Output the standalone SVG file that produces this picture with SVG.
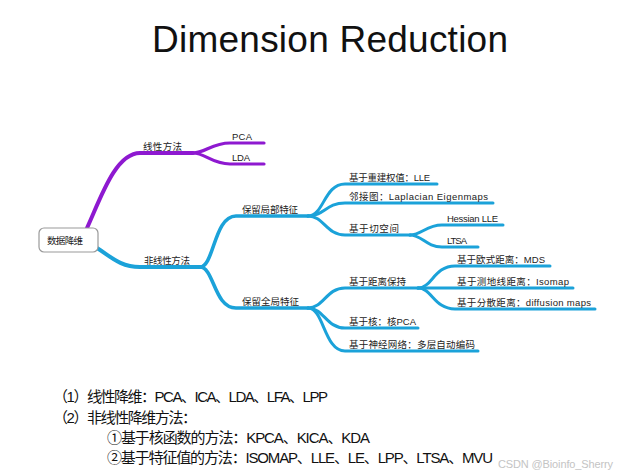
<svg xmlns="http://www.w3.org/2000/svg" width="620" height="476" viewBox="0 0 620 476">
<style>
.bg{fill:#fff}
.p{fill:none;stroke:#8e19d0;stroke-linecap:round}
.c{fill:none;stroke:#1ba2d9;stroke-linecap:round}
.m{font-family:"Liberation Sans","Noto Sans CJK SC",sans-serif;font-size:9.5px;fill:#222}
.b{font-family:"Liberation Sans","Noto Sans CJK SC",sans-serif;font-size:15px;fill:#111}
.t{font-family:"Liberation Sans",sans-serif;font-size:37px;fill:#111}
.w{font-family:"Liberation Sans",sans-serif;font-size:11px;fill:#c4c4c4}
</style>
<rect class="bg" width="620" height="476"/>
<text class="t" x="152" y="52" textLength="356">Dimension Reduction</text>

<g id="connectors">
<path class="p" stroke-width="4" d="M87,228 C100,200 115,153 140,153 L193,153"/>
<path class="p" stroke-width="3.2" d="M193,153 C205,153 212,143 230,143 L264,143"/>
<path class="p" stroke-width="3.2" d="M193,153 C205,153 212,164 230,164 L264,164"/>
<path class="c" stroke-width="4" d="M97,248 C110,256 120,267 140,267 L200,267"/>
<path class="c" stroke-width="3.6" d="M200,267 C214,267 214,216 236,216 L308,216"/>
<path class="c" stroke-width="3.6" d="M200,267 C214,267 214,308 236,308 L308,308"/>
<path class="c" stroke-width="3" d="M308,216 C324,216 324,184 345,184 L437,184"/>
<path class="c" stroke-width="3" d="M308,216 C324,216 326,203 345,203 L493,203"/>
<path class="c" stroke-width="3" d="M308,216 C324,216 326,235 345,235 L410,235"/>
<path class="c" stroke-width="3" d="M410,235 C422,235 426,225 442,225 L503,225"/>
<path class="c" stroke-width="3" d="M410,235 C422,235 426,247 442,247 L478,247"/>
<path class="c" stroke-width="3" d="M308,308 C324,308 326,288 345,288 L418,288"/>
<path class="c" stroke-width="3" d="M308,308 C324,308 326,328 345,328 L418,328"/>
<path class="c" stroke-width="3" d="M308,308 C324,308 324,351 345,351 L478,351"/>
<path class="c" stroke-width="3" d="M418,288 C432,288 434,266 455,266 L550,266"/>
<path class="c" stroke-width="3" d="M418,288 L573,288"/>
<path class="c" stroke-width="3" d="M418,288 C432,288 434,309 455,309 L595,309"/>
</g>

<g id="root">
<rect x="39" y="228" width="59" height="24" rx="5" fill="#fff" stroke="#9a9a9a" stroke-width="1.2"/>
<text class="m" x="47" y="243.5" textLength="36">数据降维</text>
</g>
<g id="linear"><text class="m" x="143" y="149.5" font-size="10" textLength="39">线性方法</text></g>
<g id="pca"><text class="m" x="232" y="139.5" font-size="10" textLength="20">PCA</text></g>
<g id="lda"><text class="m" x="232" y="160.5" font-size="10" textLength="18">LDA</text></g>
<g id="nonlinear"><text class="m" x="144" y="263.5" font-size="10" textLength="46">非线性方法</text></g>
<g id="local"><text class="m" x="242" y="212.5" font-size="10" textLength="56">保留局部特征</text></g>
<g id="global"><text class="m" x="242" y="304.5" font-size="10" textLength="57">保留全局特征</text></g>
<g id="lle"><text class="m" x="349" y="180.5" textLength="81">基于重建权值：LLE</text></g>
<g id="laplacian"><text class="m" x="349" y="199.5" textLength="139">邻接图：Laplacian Eigenmaps</text></g>
<g id="tangent"><text class="m" x="349" y="231.5" textLength="50">基于切空间</text></g>
<g id="hessian"><text class="m" x="447" y="221.5" textLength="51">Hessian LLE</text></g>
<g id="ltsa"><text class="m" x="447" y="243.5" textLength="20">LTSA</text></g>
<g id="distance"><text class="m" x="349" y="284.5" textLength="57">基于距离保持</text></g>
<g id="mds"><text class="m" x="457" y="262.5" textLength="88">基于欧式距离：MDS</text></g>
<g id="isomap"><text class="m" x="457" y="284.5" textLength="112">基于测地线距离：Isomap</text></g>
<g id="diffusion"><text class="m" x="457" y="305.5" textLength="134">基于分散距离：diffusion maps</text></g>
<g id="kernel"><text class="m" x="349" y="324.5" textLength="67">基于核：核PCA</text></g>
<g id="nn"><text class="m" x="349" y="347.5" textLength="126">基于神经网络：多层自动编码</text></g>

<g id="notes">
<text class="b" x="53" y="402" textLength="275">（1）线性降维：PCA、ICA、LDA、LFA、LPP</text>
<text class="b" x="53" y="423" textLength="144">（2）非线性降维方法：</text>
<text class="b" x="107" y="443" textLength="263">①基于核函数的方法：KPCA、KICA、KDA</text>
<text class="b" x="107" y="463" textLength="386">②基于特征值的方法：ISOMAP、LLE、LE、LPP、LTSA、MVU</text>
</g>
<text class="w" x="498" y="468" textLength="115">CSDN @Bioinfo_Sherry</text>
</svg>
